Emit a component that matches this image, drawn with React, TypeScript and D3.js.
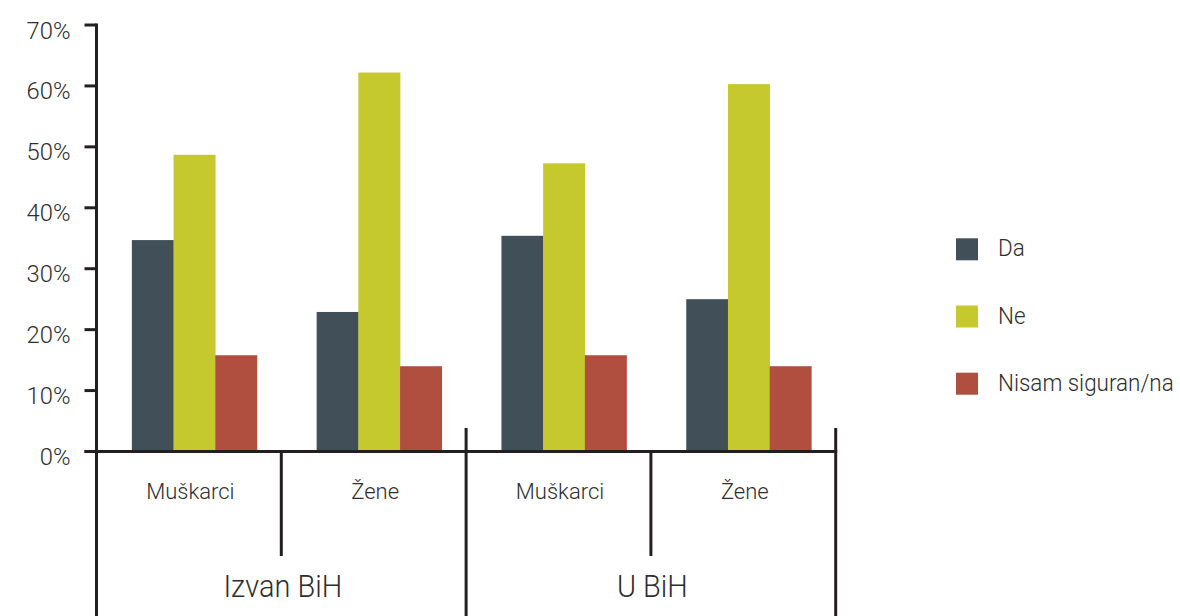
import React from "react";
import * as d3 from "d3";

const groups = ["Izvan BiH", "U BiH"];
const subCategories = ["Muškarci", "Žene"];
const seriesNames = ["Da", "Ne", "Nisam siguran/na"];
const daValues = [34.7, 22.9, 35.4, 25.0];
const neValues = [48.7, 62.2, 47.3, 60.3];
const nisamValues = [15.8, 14.0, 15.8, 14.0];
const yTicks = [0, 10, 20, 30, 40, 50, 60, 70];
const colors = ["#414f58", "#c5c92e", "#b04f3f"];

const W = 1180;
const H = 616;
const AXIS = "#231f20";
const TEXT = "#2e2e2e";
const FONT = "Roboto, 'Open Sans', sans-serif";

export default function App() {
  const left = 96.5;
  const right = 835.7;
  const y0 = 451.5;
  const yTop = 25;

  const slots = groups.flatMap((g) => subCategories.map((s) => `${g}|${s}`));
  const x0 = d3.scaleBand<string>().domain(slots).range([left, right]).padding(0);
  const gx = d3.scaleBand<string>().domain(groups).range([left, right]).padding(0);
  const slotW = x0.bandwidth();
  const groupW = slotW * 0.677;
  const shift = (slotW - groupW) / 2 + 5.5;
  const x1 = d3.scaleBand<string>().domain(seriesNames).range([0, groupW]).padding(0);
  const y = d3.scaleLinear().domain([0, 70]).range([y0, yTop]);

  const series = [daValues, neValues, nisamValues];

  return (
    <svg width={W} height={H} style={{ position: "absolute", left: 0, top: 0 }} fontFamily={FONT} fontWeight={300}>
      <rect width={W} height={H} fill="#fff" />
      {/* bars */}
      {slots.map((slot, i) => (
        <g key={slot} transform={`translate(${x0(slot)! + shift},0)`}>
          {seriesNames.map((s, j) => (
            <rect
              key={s}
              x={x1(s)!}
              y={y(series[j][i])}
              width={x1.bandwidth() + 0.3}
              height={y0 - y(series[j][i])}
              fill={colors[j]}
            />
          ))}
        </g>
      ))}
      {/* y axis */}
      <line x1={left} x2={left} y1={yTop - 1.5} y2={H} stroke={AXIS} strokeWidth={3} />
      {yTicks.map((t) => (
        <g key={t}>
          <line x1={left - 12} x2={left} y1={y(t)} y2={y(t)} stroke={AXIS} strokeWidth={3} />
          <text
            transform={`translate(70.5,${y(t) + 13.5})scale(0.97,1)`}
            textAnchor="end"
            fontSize={24.5}
            fill={TEXT}
          >
            {`${t}%`}
          </text>
        </g>
      ))}
      {/* x axis */}
      <line x1={left - 12} x2={right + 1.5} y1={y0} y2={y0} stroke={AXIS} strokeWidth={3} />
      {/* subcategory dividers */}
      {groups.map((g) => (
        <line
          key={g + "mid"}
          x1={gx(g)! + gx.bandwidth() / 2}
          x2={gx(g)! + gx.bandwidth() / 2}
          y1={y0}
          y2={556}
          stroke={AXIS}
          strokeWidth={3}
        />
      ))}
      {groups.map((g) => (
        <line
          key={g + "end"}
          x1={gx(g)! + gx.bandwidth()}
          x2={gx(g)! + gx.bandwidth()}
          y1={428}
          y2={H}
          stroke={AXIS}
          strokeWidth={3}
        />
      ))}
      {/* subcategory labels */}
      {slots.map((slot) => (
        <text
          key={slot + "lab"}
          x={x0(slot)! + slotW / 2 + 1.5}
          y={498.5}
          textAnchor="middle"
          fontSize={22}
          fill={TEXT}
        >
          {slot.split("|")[1]}
        </text>
      ))}
      {/* group labels */}
      {groups.map((g) => (
        <text
          key={g + "lab"}
          transform={`translate(${gx(g)! + gx.bandwidth() / 2 + 1.5},596.5)scale(0.92,1)`}
          textAnchor="middle"
          fontSize={31.5}
          fill={TEXT}
        >
          {g}
        </text>
      ))}
      {/* legend */}
      {seriesNames.map((s, j) => (
        <g key={s + "leg"} transform={`translate(956,${238.3 + j * 67.2})`}>
          <rect width={22} height={22} fill={colors[j]} />
          <text transform="translate(42,18)scale(0.955,1)" fontSize={23.5} fill={TEXT}>
            {s}
          </text>
        </g>
      ))}
    </svg>
  );
}
